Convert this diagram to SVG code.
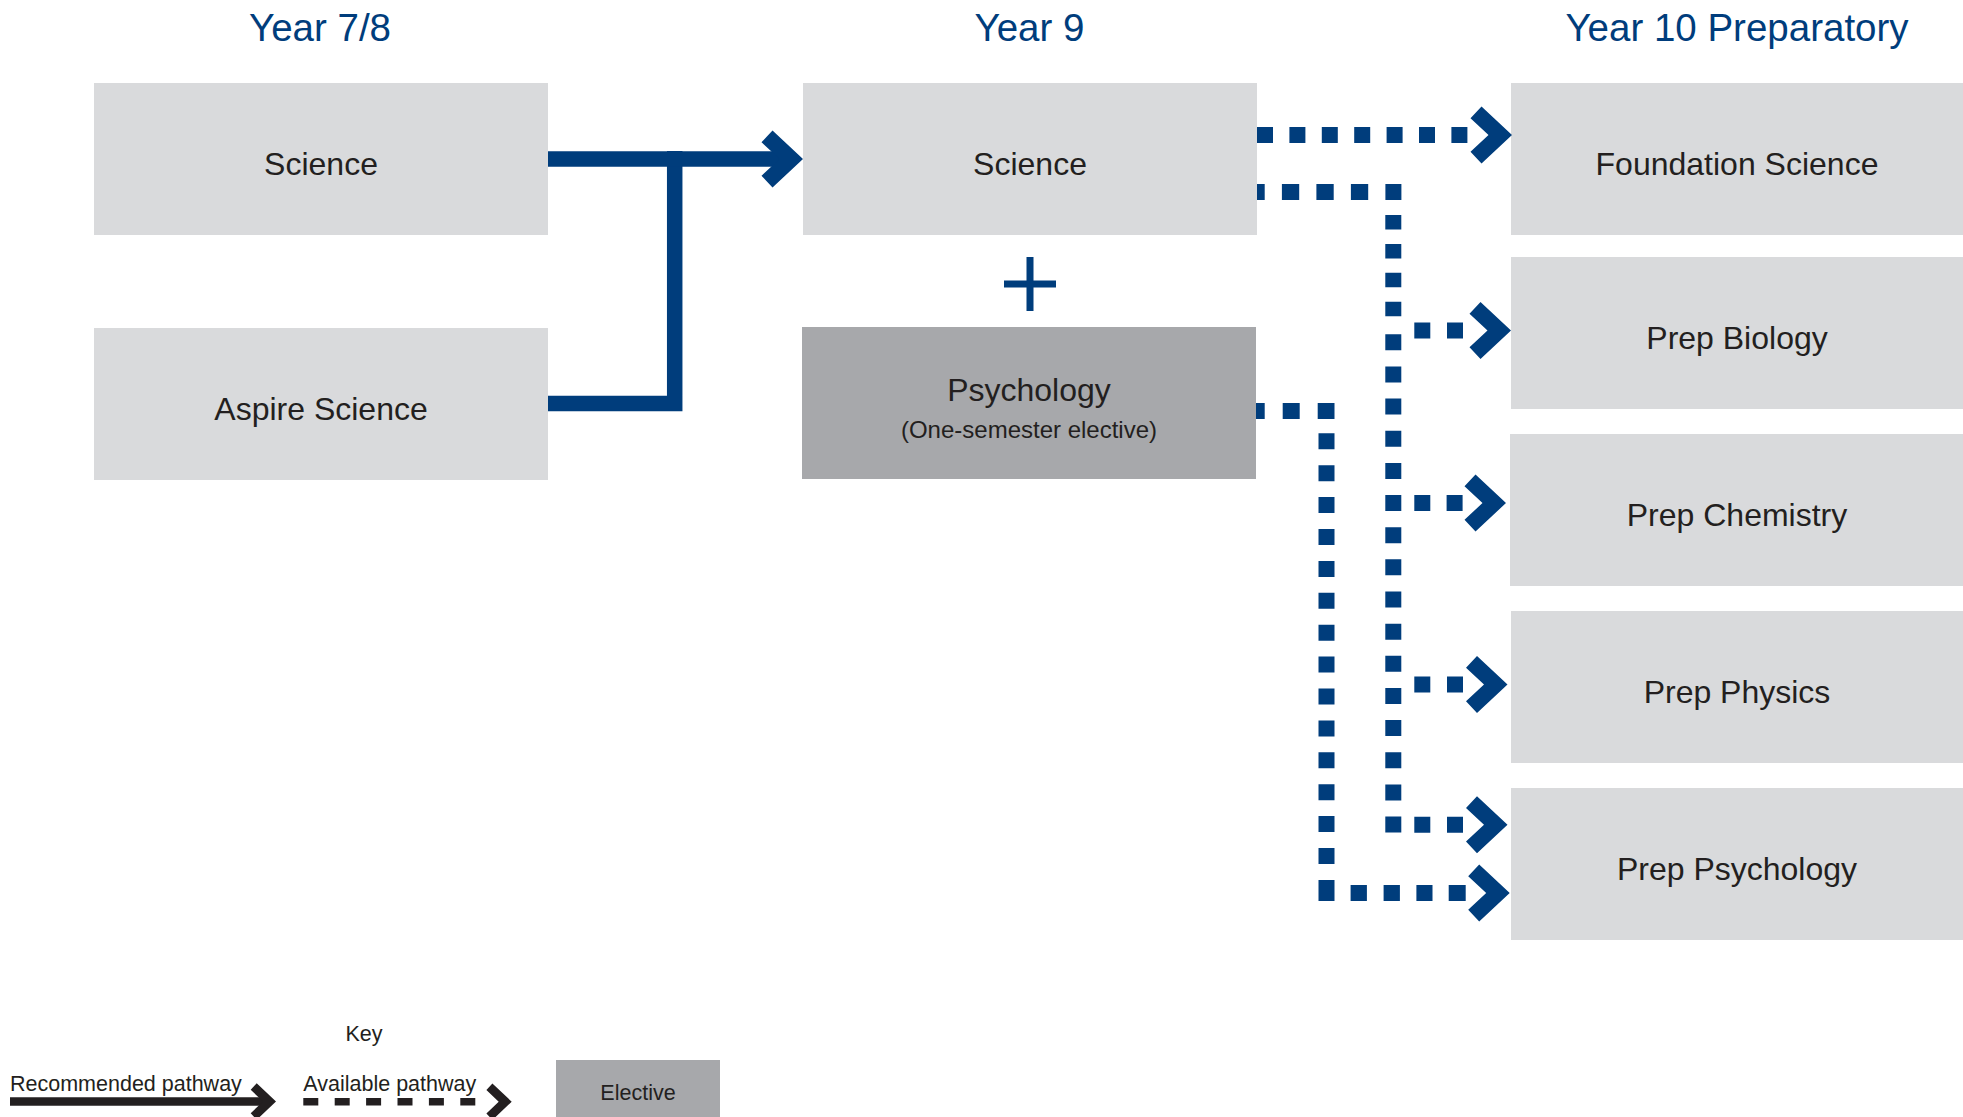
<svg xmlns="http://www.w3.org/2000/svg" xmlns:xlink="http://www.w3.org/1999/xlink" width="1963" height="1117" viewBox="0 0 1963 1117">
<style>
text{font-family:"Liberation Sans",Arial,Helvetica,sans-serif;}
.title{font-size:38.5px;fill:#003d7c;text-anchor:middle;}
.lbl{font-size:32px;fill:#231f20;text-anchor:middle;}
.sub{font-size:24px;fill:#231f20;text-anchor:middle;}
.key{font-size:21.5px;fill:#231f20;}
.box{fill:#d9dadc;}
.elec{fill:#a7a8ab;}
.solid{fill:none;stroke:#003d7c;stroke-width:15.5;stroke-linejoin:miter;stroke-linecap:butt;}
.dot{fill:none;stroke:#003d7c;stroke-width:16;stroke-linejoin:miter;stroke-linecap:butt;}
.blue{fill:#003d7c;}
.blk{fill:#231f20;}
</style>
<defs>
<path id="chev" d="M-30.5,-28.5 L0,0 L-30.5,28.5 L-41.5,16.8 L-23.5,0 L-41.5,-16.8 Z"/>
<path id="chevS" d="M-19.3,-18.3 L0,0 L-19.3,18.3 L-25.3,11.7 L-13,0 L-25.3,-11.7 Z"/>
</defs>
<rect width="1963" height="1117" fill="#ffffff"/>

<g id="titles">
<text class="title" x="320" y="41">Year 7/8</text>
<text class="title" x="1029.5" y="41">Year 9</text>
<text class="title" x="1737" y="41">Year 10 Preparatory</text>
</g>

<g id="node-science78">
<rect class="box" x="94" y="83" width="454" height="152"/>
<text class="lbl" x="321" y="174.5">Science</text>
</g>
<g id="node-aspire">
<rect class="box" x="94" y="328" width="454" height="152"/>
<text class="lbl" x="321" y="419.5">Aspire Science</text>
</g>
<g id="node-science9">
<rect class="box" x="803" y="83" width="454" height="152"/>
<text class="lbl" x="1030" y="174.5">Science</text>
</g>
<g id="plus">
<path d="M1004,284 H1056 M1030,257 V311" fill="none" stroke="#003d7c" stroke-width="7"/>
</g>
<g id="node-psychology">
<rect class="elec" x="802" y="327" width="454" height="152"/>
<text class="lbl" x="1029" y="400.5">Psychology</text>
<text class="sub" x="1029" y="437.5">(One-semester elective)</text>
</g>
<g id="node-foundation">
<rect class="box" x="1511" y="83" width="452" height="152"/>
<text class="lbl" x="1737" y="174.5">Foundation Science</text>
</g>
<g id="node-biology">
<rect class="box" x="1511" y="257" width="452" height="152"/>
<text class="lbl" x="1737" y="348.5">Prep Biology</text>
</g>
<g id="node-chemistry">
<rect class="box" x="1510" y="434" width="453" height="152"/>
<text class="lbl" x="1737" y="525.5">Prep Chemistry</text>
</g>
<g id="node-physics">
<rect class="box" x="1511" y="611" width="452" height="152"/>
<text class="lbl" x="1737" y="702.5">Prep Physics</text>
</g>
<g id="node-prep-psychology">
<rect class="box" x="1511" y="788" width="452" height="152"/>
<text class="lbl" x="1737" y="879.5">Prep Psychology</text>
</g>

<g id="connectors">
<!-- recommended: Year 7/8 to Year 9 Science -->
<path class="solid" d="M548,403.5 H674.7 V151"/>
<path class="solid" d="M548,159 H781"/>
<use href="#chev" class="blue" transform="translate(803,159)"/>
<!-- available: Science 9 to Foundation -->
<path class="dot" d="M1257,135 H1468" stroke-dasharray="16 16.4"/>
<use href="#chev" class="blue" transform="translate(1512,135)"/>
<!-- available: Science 9 trunk -->
<path class="dot" d="M1257,192 H1401.4" stroke-dasharray="17.3 17.2" stroke-dashoffset="9.6"/>
<path class="dot" d="M1393.3,215 V317" stroke-dasharray="14.5 14.4"/>
<path class="dot" d="M1393.3,334.3 V833.3" stroke-dasharray="16 16.15"/>
<path class="dot" d="M1414.3,330.5 H1464" stroke-dasharray="16 16.7"/>
<use href="#chev" class="blue" transform="translate(1511,330.5)"/>
<path class="dot" d="M1414.3,503 H1463" stroke-dasharray="16 16.3"/>
<use href="#chev" class="blue" transform="translate(1506,503)"/>
<path class="dot" d="M1414.3,684.5 H1464" stroke-dasharray="16 16.7"/>
<use href="#chev" class="blue" transform="translate(1507.5,684.5)"/>
<path class="dot" d="M1414.3,824.7 H1464" stroke-dasharray="16 16.7"/>
<use href="#chev" class="blue" transform="translate(1507.5,824.7)"/>
<!-- available: Psychology to Prep Psychology -->
<path class="dot" d="M1256,411 H1334.5" stroke-dasharray="17 18" stroke-dashoffset="8.3"/>
<path class="dot" d="M1326.5,433.3 V864" stroke-dasharray="16 15.9"/>
<path class="dot" d="M1326.5,880 V893 H1466" stroke-dasharray="21 16.1 16.3 16.7 16.3 16.5 16.1 16.2 17 100"/>
<use href="#chev" class="blue" transform="translate(1509.7,893)"/>
</g>

<g id="legend">
<text class="key" x="364" y="1040.5" text-anchor="middle">Key</text>
<text class="key" x="10" y="1090.5">Recommended pathway</text>
<path d="M10,1101.5 H264" fill="none" stroke="#231f20" stroke-width="8.3"/>
<use href="#chevS" class="blk" transform="translate(276,1101.5)"/>
<text class="key" x="303.3" y="1090.5">Available pathway</text>
<path d="M303.3,1101.7 H476" fill="none" stroke="#231f20" stroke-width="7.5" stroke-dasharray="15 16.4"/>
<use href="#chevS" class="blk" transform="translate(511.7,1101.7)"/>
<g id="legend-elective">
<rect class="elec" x="556" y="1060" width="164" height="60"/>
<text class="key" x="638" y="1100" text-anchor="middle">Elective</text>
</g>
</g>
</svg>
